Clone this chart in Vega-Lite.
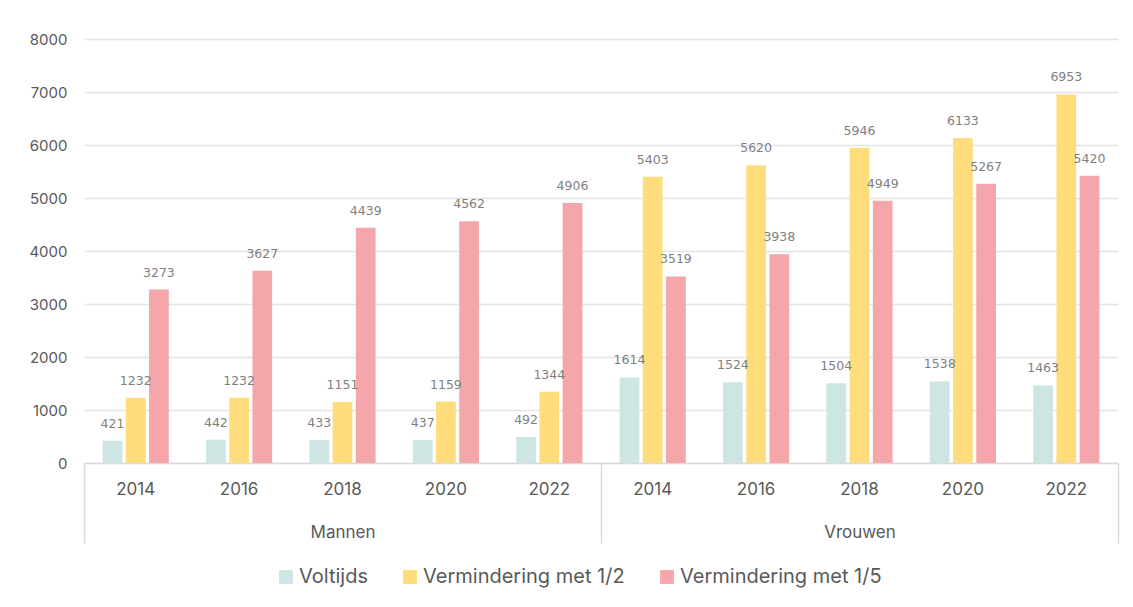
{
  "$schema": "https://vega.github.io/schema/vega-lite/v6.json",
  "autosize": "none",
  "width": 1034,
  "height": 424,
  "padding": {"left": 84, "top": 39, "right": 15, "bottom": 144},
  "background": "white",
  "config": {
    "font": "Inter",
    "view": {"stroke": null},
    "axis": {"labelColor": "#595959", "titleColor": "#595959"}
  },
  "data": {
    "values": [
      {"cat": "Mannen 2014", "gender": "Mannen", "series": "Voltijds", "value": 421},
      {"cat": "Mannen 2014", "gender": "Mannen", "series": "Vermindering met 1/2", "value": 1232},
      {"cat": "Mannen 2014", "gender": "Mannen", "series": "Vermindering met 1/5", "value": 3273},
      {"cat": "Mannen 2016", "gender": "Mannen", "series": "Voltijds", "value": 442},
      {"cat": "Mannen 2016", "gender": "Mannen", "series": "Vermindering met 1/2", "value": 1232},
      {"cat": "Mannen 2016", "gender": "Mannen", "series": "Vermindering met 1/5", "value": 3627},
      {"cat": "Mannen 2018", "gender": "Mannen", "series": "Voltijds", "value": 433},
      {"cat": "Mannen 2018", "gender": "Mannen", "series": "Vermindering met 1/2", "value": 1151},
      {"cat": "Mannen 2018", "gender": "Mannen", "series": "Vermindering met 1/5", "value": 4439},
      {"cat": "Mannen 2020", "gender": "Mannen", "series": "Voltijds", "value": 437},
      {"cat": "Mannen 2020", "gender": "Mannen", "series": "Vermindering met 1/2", "value": 1159},
      {"cat": "Mannen 2020", "gender": "Mannen", "series": "Vermindering met 1/5", "value": 4562},
      {"cat": "Mannen 2022", "gender": "Mannen", "series": "Voltijds", "value": 492},
      {"cat": "Mannen 2022", "gender": "Mannen", "series": "Vermindering met 1/2", "value": 1344},
      {"cat": "Mannen 2022", "gender": "Mannen", "series": "Vermindering met 1/5", "value": 4906},
      {"cat": "Vrouwen 2014", "gender": "Vrouwen", "series": "Voltijds", "value": 1614},
      {"cat": "Vrouwen 2014", "gender": "Vrouwen", "series": "Vermindering met 1/2", "value": 5403},
      {"cat": "Vrouwen 2014", "gender": "Vrouwen", "series": "Vermindering met 1/5", "value": 3519},
      {"cat": "Vrouwen 2016", "gender": "Vrouwen", "series": "Voltijds", "value": 1524},
      {"cat": "Vrouwen 2016", "gender": "Vrouwen", "series": "Vermindering met 1/2", "value": 5620},
      {"cat": "Vrouwen 2016", "gender": "Vrouwen", "series": "Vermindering met 1/5", "value": 3938},
      {"cat": "Vrouwen 2018", "gender": "Vrouwen", "series": "Voltijds", "value": 1504},
      {"cat": "Vrouwen 2018", "gender": "Vrouwen", "series": "Vermindering met 1/2", "value": 5946},
      {"cat": "Vrouwen 2018", "gender": "Vrouwen", "series": "Vermindering met 1/5", "value": 4949},
      {"cat": "Vrouwen 2020", "gender": "Vrouwen", "series": "Voltijds", "value": 1538},
      {"cat": "Vrouwen 2020", "gender": "Vrouwen", "series": "Vermindering met 1/2", "value": 6133},
      {"cat": "Vrouwen 2020", "gender": "Vrouwen", "series": "Vermindering met 1/5", "value": 5267},
      {"cat": "Vrouwen 2022", "gender": "Vrouwen", "series": "Voltijds", "value": 1463},
      {"cat": "Vrouwen 2022", "gender": "Vrouwen", "series": "Vermindering met 1/2", "value": 6953},
      {"cat": "Vrouwen 2022", "gender": "Vrouwen", "series": "Vermindering met 1/5", "value": 5420}
    ]
  },
  "layer": [
    {
      "encoding": {
        "x": {
          "field": "cat", "type": "nominal",
          "scale": {"paddingInner": 0.36, "paddingOuter": 0.18},
          "axis": {
            "title": null, "labelAngle": 0, "ticks": false,
            "labelExpr": "slice(datum.label, -4)",
            "labelFontSize": 17, "labelPadding": 18,
            "domainColor": "#d9d9d9", "domainWidth": 1.5
          }
        },
        "xOffset": {
          "field": "series", "type": "nominal",
          "sort": ["Voltijds", "Vermindering met 1/2", "Vermindering met 1/5"],
          "scale": {"paddingInner": 0.15}
        },
        "y": {
          "field": "value", "type": "quantitative",
          "scale": {"domain": [0, 8000], "nice": false},
          "axis": {
            "title": null, "values": [0,1000,2000,3000,4000,5000,6000,7000,8000],
            "format": "d", "labelOverlap": false,
            "domain": false, "ticks": false, "labelPadding": 17,
            "labelFontSize": 15, "gridColor": "#e3e3e3", "gridWidth": 1.5
          }
        }
      },
      "layer": [
        {
          "mark": {"type": "bar"},
          "encoding": {
            "color": {
              "field": "series", "type": "nominal",
              "scale": {
                "domain": ["Voltijds", "Vermindering met 1/2", "Vermindering met 1/5"],
                "range": ["#cde6e3", "#ffdc7c", "#f4a6aa"]
              },
              "legend": {
                "title": null, "orient": "none", "legendX": 192, "legendY": 528,
                "direction": "horizontal",
                "symbolType": "square", "symbolSize": 190, "symbolStrokeWidth": 0,
                "labelFontSize": 20, "labelColor": "#595959", "columnPadding": 32,
                "labelOffset": 3, "labelLimit": 0
              }
            }
          }
        },
        {
          "mark": {"type": "text", "dy": -17, "fontSize": 12.5, "color": "#7f7f7f", "font": "DejaVu Sans"},
          "encoding": {"text": {"field": "value", "type": "quantitative"}}
        }
      ]
    },
    {
      "mark": {"type": "rule", "opacity": 0},
      "encoding": {
        "x": {
          "field": "gender", "type": "nominal",
          "scale": {"paddingInner": 0, "paddingOuter": 0},
          "axis": {
            "title": null, "orient": "bottom", "labelAngle": 0,
            "domain": false, "ticks": true, "tickBand": "extent",
            "tickSize": 80, "tickColor": "#d9d9d9", "tickWidth": 1.5,
            "labelFontSize": 17, "labelPadding": -19, "labelColor": "#595959"
          }
        }
      }
    }
  ],
  "resolve": {"scale": {"x": "independent"}, "axis": {"x": "independent"}}
}
